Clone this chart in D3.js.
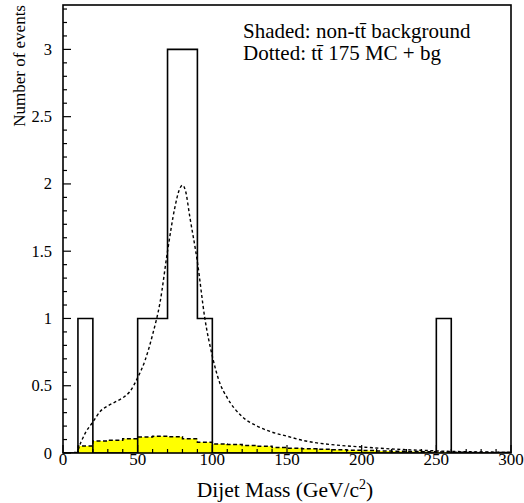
<!DOCTYPE html>
<html><head><meta charset="utf-8">
<script src="https://cdn.jsdelivr.net/npm/d3@7"></script>
<style>
html,body{margin:0;padding:0;background:#fff;}
svg{display:block;font-family:"Liberation Serif","Times New Roman",serif;}
</style></head>
<body><svg id="c" width="524" height="503"></svg>
<script>
// Data histogram (10 GeV bins, left edges)
const binEdges = [0,10,20,30,40,50,60,70,80,90,100,110,120,130,140,150,160,170,180,190,200,210,220,230,240,250,260,270,280,290,300];
const dataCounts = [0,1,0,0,0,1,1,3,3,1,0,0,0,0,0,0,0,0,0,0,0,0,0,0,0,1,0,0,0,0];
// non-ttbar background (shaded)
const bgCounts = [0,0.052,0.089,0.094,0.105,0.119,0.124,0.12,0.105,0.08,0.067,0.063,0.056,0.05,0.04,0.035,0.031,0.027,0.024,0.02,0.018,0.015,0.013,0.011,0.009,0.007,0.005,0.004,0.003,0.003];
// ttbar 175 MC + bg (dotted curve)
const mcMass = [0,5,9,12,15,20,25,30,35,40,45,50,55,60,65,70,75,78,80,82,85,90,95,100,105,110,120,130,140,150,160,170,180,200,220,240,260,280,300];
const mcVals = [0.003,0.003,0.005,0.08,0.15,0.23,0.31,0.35,0.38,0.41,0.46,0.56,0.69,0.88,1.12,1.5,1.83,1.96,1.99,1.95,1.75,1.42,1.0,0.72,0.52,0.41,0.27,0.2,0.155,0.125,0.095,0.075,0.062,0.045,0.03,0.02,0.012,0.008,0.005];
const xTicks = [0,50,100,150,200,250,300];
const yTicks = [0,0.5,1,1.5,2,2.5,3];

const svg = d3.select("#c");
const L=63,R=511,T=5,B=453;
const x = d3.scaleLinear().domain([0,300]).range([L,R]);
const y = d3.scaleLinear().domain([0,3.33]).range([B,T]);

function stepPts(counts){
  const pts=[];
  counts.forEach((v,i)=>{pts.push([binEdges[i],v]);pts.push([binEdges[i+1],v]);});
  return pts;
}
svg.append("clipPath").attr("id","cp").append("rect").attr("x",L).attr("y",T).attr("width",R-L).attr("height",B-T);
const g = svg.append("g").attr("clip-path","url(#cp)");

const bgPts = stepPts(bgCounts);
g.append("path").datum(bgPts)
 .attr("d", d3.area().x(d=>x(d[0])).y0(y(0)).y1(d=>y(d[1])))
 .attr("fill","#ffff00");
g.append("path").datum(bgPts)
 .attr("d", d3.line().x(d=>x(d[0])).y(d=>y(d[1])))
 .attr("fill","none").attr("stroke","#000").attr("stroke-width",1.5).attr("stroke-dasharray","4,2.5");

// data histogram outline
g.append("path").datum(stepPts(dataCounts))
 .attr("d", d3.line().x(d=>x(d[0])).y(d=>y(d[1])))
 .attr("fill","none").attr("stroke","#000").attr("stroke-width",1.6);

// MC curve
g.append("path").datum(mcMass.map((m,i)=>[m,mcVals[i]]))
 .attr("d", d3.line().x(d=>x(d[0])).y(d=>y(d[1])).curve(d3.curveMonotoneX))
 .attr("fill","none").attr("stroke","#000").attr("stroke-width",1.4).attr("stroke-dasharray","3,2.5");

// frame
svg.append("rect").attr("x",L).attr("y",T).attr("width",R-L).attr("height",B-T)
 .attr("fill","none").attr("stroke","#000").attr("stroke-width",1.6);

// y ticks
const yMinor = d3.range(0,3.31,0.1);
svg.append("g").selectAll("line").data(yMinor).join("line")
 .attr("x1",L).attr("x2",d=>L+(Math.abs(d*2-Math.round(d*2))<1e-6?8:4))
 .attr("y1",d=>y(d)).attr("y2",d=>y(d)).attr("stroke","#000").attr("stroke-width",1.2);
svg.append("g").selectAll("text").data(yTicks).join("text")
 .attr("x",52).attr("y",d=>y(d)+5.5).attr("text-anchor","end")
 .attr("font-size",16.5).text(d=>d3.format("")(d));

// x ticks
const xMinor = d3.range(0,301,10);
svg.append("g").selectAll("line").data(xMinor).join("line")
 .attr("x1",d=>x(d)).attr("x2",d=>x(d))
 .attr("y1",B).attr("y2",d=>B-(d%50===0?8:4)).attr("stroke","#000").attr("stroke-width",1.2);
svg.append("g").selectAll("text").data(xTicks).join("text")
 .attr("x",d=>x(d)).attr("y",465).attr("text-anchor","middle")
 .attr("font-size",17).text(d=>d);

// axis titles
const xt = svg.append("text").attr("x",285).attr("y",497).attr("text-anchor","middle").attr("font-size",21.5);
xt.append("tspan").text("Dijet Mass (GeV/c");
xt.append("tspan").attr("font-size",14).attr("dy",-8).text("2");
xt.append("tspan").attr("dy",8).text(")");
svg.append("text").attr("transform","translate(25,5) rotate(-90)").attr("text-anchor","end")
 .attr("font-size",17).text("Number of events");

// legend text
svg.append("text").attr("x",243).attr("y",38).attr("font-size",21).text("Shaded: non-tt\u0304 background");
svg.append("text").attr("x",243).attr("y",60).attr("font-size",21).text("Dotted: tt\u0304 175 MC + bg");
</script></body></html>
